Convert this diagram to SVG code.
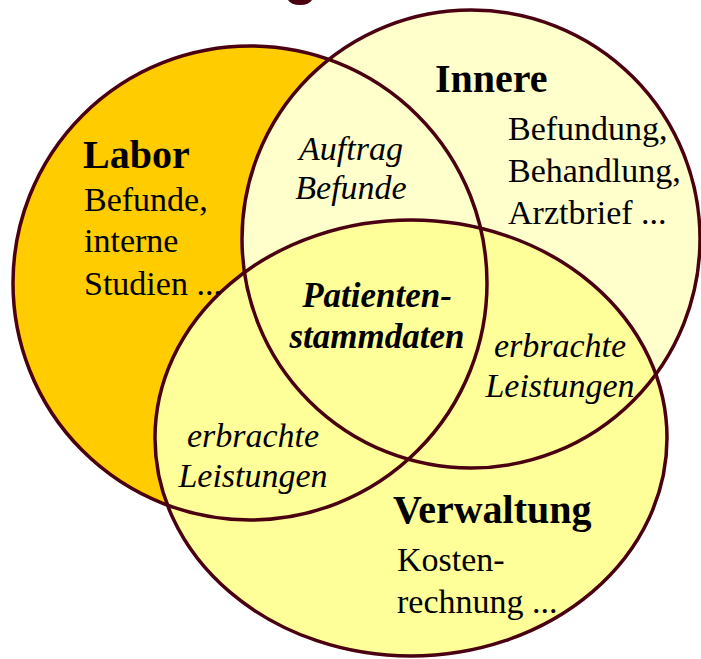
<svg xmlns="http://www.w3.org/2000/svg" width="701" height="659" viewBox="0 0 701 659">
<style>
.fill-labor{fill:#FFCC00}
.fill-innere{fill:#FFFFCC}
.fill-verw{fill:#FFFF99}
.ring{fill:none;stroke:#4A0010;stroke-width:3.5}
text{font-family:"Liberation Serif","Times New Roman",serif;fill:#000}
.head{font-weight:bold;font-size:40px}
.body{font-size:34px}
.it{font-style:italic;font-size:34px;text-anchor:middle}
.bi{font-style:italic;font-weight:bold;font-size:35px;text-anchor:middle}
</style>
<rect width="701" height="659" fill="#FFFFFF"/>
<path d="M288,0 Q291,5 300,5 Q309,5 312,0 Z" fill="#4A0010"/>
<g id="fills">
<circle class="fill-labor" cx="250" cy="283" r="237"/>
<circle class="fill-innere" cx="471" cy="239" r="229"/>
<ellipse class="fill-verw" cx="411" cy="438" rx="256" ry="218"/>
</g>
<g id="connectors">
<circle class="ring" cx="250" cy="283" r="237"/>
<circle class="ring" cx="471" cy="239" r="229"/>
<ellipse class="ring" cx="411" cy="438" rx="256" ry="218"/>
</g>
<g id="labor">
<text class="head" x="83" y="168">Labor</text>
<text class="body" x="84" y="211">Befunde,</text>
<text class="body" x="84" y="252">interne</text>
<text class="body" x="84" y="295">Studien ...</text>
</g>
<g id="innere">
<text class="head" x="435" y="92">Innere</text>
<text class="body" x="508" y="140">Befundung,</text>
<text class="body" x="508" y="182">Behandlung,</text>
<text class="body" x="508" y="224">Arztbrief ...</text>
</g>
<g id="labor-innere">
<text class="it" x="351" y="160">Auftrag</text>
<text class="it" x="351" y="199">Befunde</text>
</g>
<g id="center">
<text class="bi" x="377" y="307">Patienten-</text>
<text class="bi" x="377" y="348">stammdaten</text>
</g>
<g id="innere-verwaltung">
<text class="it" x="560" y="357">erbrachte</text>
<text class="it" x="560" y="397">Leistungen</text>
</g>
<g id="labor-verwaltung">
<text class="it" x="253" y="447">erbrachte</text>
<text class="it" x="253" y="487">Leistungen</text>
</g>
<g id="verwaltung">
<text class="head" x="393" y="523">Verwaltung</text>
<text class="body" x="397" y="571">Kosten-</text>
<text class="body" x="397" y="613">rechnung ...</text>
</g>
</svg>
